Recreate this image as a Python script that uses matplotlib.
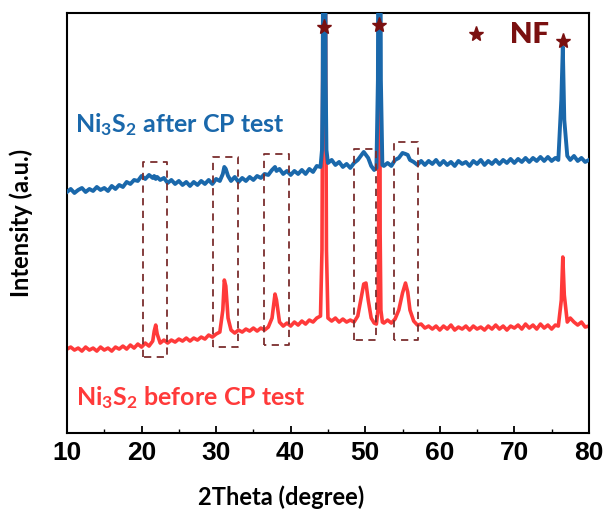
import numpy as np
import matplotlib
matplotlib.use("Agg")
import matplotlib.pyplot as plt

plt.rcParams['font.family'] = ['Lato', 'DejaVu Sans']
plt.rcParams['mathtext.fontset'] = 'custom'
plt.rcParams['mathtext.rm'] = 'Lato:bold'
plt.rcParams['mathtext.bf'] = 'Lato:bold'
plt.rcParams['mathtext.default'] = 'bf'

# 2theta grid (degree)
two_theta = [
    10.0, 10.5, 11.0, 11.5, 12.0, 12.5, 13.0, 13.5, 14.0, 14.5, 15.0, 15.5,
    16.0, 16.5, 17.0, 17.5, 18.0, 18.5, 19.0, 19.5, 20.0, 20.5, 21.0, 21.5,
    21.7, 21.9, 22.1, 22.5, 23.0, 23.5, 24.0, 24.5, 25.0, 25.5, 26.0, 26.5,
    27.0, 27.5, 28.0, 28.5, 29.0, 29.5, 30.0, 30.5, 30.9, 31.1, 31.3, 31.6,
    32.0, 32.5, 33.0, 33.5, 34.0, 34.5, 35.0, 35.5, 36.0, 36.5, 37.0, 37.5,
    37.9, 38.1, 38.5, 39.0, 39.5, 40.0, 40.5, 41.0, 41.5, 42.0, 42.5, 43.0,
    43.5, 44.0, 44.2, 44.3, 44.4, 44.5, 44.6, 44.7, 44.8, 45.0, 45.5, 46.0,
    46.5, 47.0, 47.5, 48.0, 48.5, 49.0, 49.5, 49.8, 50.1, 50.4, 50.8, 51.2,
    51.5, 51.7, 51.8, 51.9, 52.0, 52.1, 52.3, 52.5, 53.0, 53.5, 54.0, 54.5,
    55.0, 55.4, 55.7, 56.0, 56.5, 57.0, 57.5, 58.0, 58.5, 59.0, 59.5, 60.0,
    60.5, 61.0, 61.5, 62.0, 62.5, 63.0, 63.5, 64.0, 64.5, 65.0, 65.5, 66.0,
    66.5, 67.0, 67.5, 68.0, 68.5, 69.0, 69.5, 70.0, 70.5, 71.0, 71.5, 72.0,
    72.5, 73.0, 73.5, 74.0, 74.5, 75.0, 75.5, 75.9, 76.3, 76.5, 76.7, 77.1,
    77.5, 78.0, 78.5, 79.0, 79.5, 80.0,
]

# intensity (a.u.) of Ni3S2 after CP test
after_cp = [
    241, 244, 240, 243, 245, 241, 244, 242, 246, 243, 245, 242,
    247, 244, 248, 246, 251, 249, 253, 252, 257, 254, 258, 255,
    257, 254, 256, 253, 255, 250, 253, 249, 252, 248, 251, 247,
    251, 248, 252, 249, 253, 249, 254, 252, 259, 266, 264, 257,
    252, 256, 251, 255, 252, 256, 253, 257, 255, 259, 258, 263,
    266, 262, 264, 259, 262, 258, 262, 259, 263, 259, 264, 261,
    267, 266, 283, 353, 633, 683, 633, 353, 283, 270, 273, 268,
    271, 266, 269, 265, 270, 273, 278, 281, 278, 275, 267, 263,
    265, 353, 633, 683, 633, 353, 268, 267, 270, 267, 273, 275,
    280, 279, 278, 273, 271, 268, 272, 268, 272, 269, 273, 268,
    272, 268, 271, 267, 272, 269, 271, 267, 272, 269, 273, 268,
    272, 269, 273, 269, 273, 270, 274, 270, 274, 271, 275, 271,
    275, 272, 276, 272, 276, 272, 275, 273, 333, 386, 313, 277,
    273, 277, 272, 275, 271, 273,
]

# intensity (a.u.) of Ni3S2 before CP test
before_cp = [
    84, 86, 83, 85, 82, 86, 83, 85, 82, 86, 83, 85,
    82, 86, 84, 87, 84, 88, 85, 89, 86, 90, 87, 92,
    102, 108, 99, 90, 93, 90, 93, 91, 94, 92, 95, 92,
    95, 93, 96, 94, 98, 96, 99, 101, 123, 153, 147, 115,
    103, 100, 103, 101, 104, 102, 105, 102, 105, 103, 106, 115,
    139, 133, 111, 107, 110, 107, 111, 108, 112, 109, 113, 111,
    115, 117, 183, 373, 733, 783, 733, 373, 183, 115, 112, 115,
    111, 114, 111, 113, 111, 117, 137, 149, 150, 133, 115, 110,
    109, 123, 200, 733, 200, 123, 111, 110, 113, 110, 114, 123,
    140, 150, 141, 123, 112, 108, 109, 105, 107, 104, 107, 103,
    107, 104, 108, 103, 106, 104, 107, 103, 107, 104, 106, 103,
    107, 104, 108, 104, 107, 103, 107, 105, 108, 104, 109, 105,
    108, 104, 109, 105, 108, 104, 108, 107, 133, 176, 138, 111,
    115, 111, 108, 111, 106, 107,
]

# dashed boxes: (2theta from, 2theta to, intensity bottom, intensity top)
box_x0 = [20.2, 29.6, 36.4, 48.5, 53.9]
box_x1 = [23.4, 32.9, 39.8, 51.4, 57.1]
box_y0 = [76, 86, 88, 93, 93]
box_y1 = [271, 276, 279, 284, 291]

# NF star markers
nf_x = [44.5, 51.9, 76.5]
nf_y = [406, 408, 392]

blue = '#1a68ab'
red = '#ff3a3a'
dark = '#7a1010'
box_col = '#7b2e2e'

fig = plt.figure(figsize=(6.09, 5.15), dpi=100)
ax = fig.add_axes([0.110, 0.159, 0.857, 0.816])

ax.plot(two_theta, before_cp, color=red, lw=2.6, zorder=2)
ax.plot(two_theta, after_cp, color=blue, lw=2.8, zorder=3)

for x0, x1, y0, y1 in zip(box_x0, box_x1, box_y0, box_y1):
    ax.plot([x0, x0, x1, x1, x0], [y0, y1, y1, y0, y0], color=box_col,
            lw=1.3, ls=(0, (4, 3)), zorder=4)

ax.plot(nf_x, nf_y, ls='none', marker='*', ms=11, color=dark, zorder=5)
ax.plot([64.8], [399], ls='none', marker='*', ms=11, color=dark)
ax.text(69.4, 398, 'NF', color=dark, fontsize=21, fontweight='heavy',
        va='center', ha='left')

ax.text(11.1, 308, r'Ni$_3$S$_2$ after CP test', color=blue, fontsize=18,
        fontweight='bold', va='center', ha='left')
ax.text(11.2, 36, r'Ni$_3$S$_2$ before CP test', color=red, fontsize=18,
        fontweight='bold', va='center', ha='left')

ax.set_xlim(10, 80)
ax.set_ylim(0, 420)
ax.set_xticks(np.arange(10, 81, 10))
ax.set_xticks(np.arange(15, 80, 10), minor=True)
ax.set_yticks([])
ax.tick_params(axis='x', which='major', direction='in', length=5, width=1.3,
               pad=6, labelsize=19)
ax.tick_params(axis='x', which='minor', direction='in', length=3, width=1.0)
for lab in ax.get_xticklabels():
    lab.set_fontfamily(['Liberation Sans', 'DejaVu Sans'])
    lab.set_fontweight('bold')
for s in ax.spines.values():
    s.set_linewidth(1.5)

ax.set_xlabel('2Theta (degree)', fontsize=17, fontweight='bold')
ax.set_ylabel('Intensity (a.u.)', fontsize=17, fontweight='bold')
ax.xaxis.set_label_coords(0.41, -0.125)
ax.yaxis.set_label_coords(-0.065, 0.5)

fig.savefig('out.png', dpi=100)
